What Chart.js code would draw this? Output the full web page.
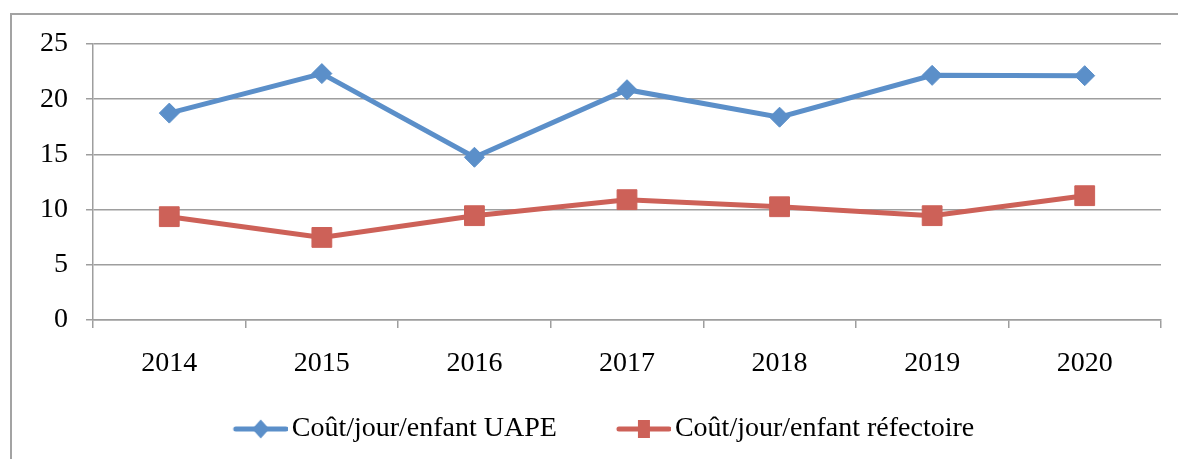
<!DOCTYPE html>
<html>
<head>
<meta charset="utf-8">
<script src="https://cdn.jsdelivr.net/npm/chart.js@4.4.1/dist/chart.umd.min.js"></script>
<style>
  html, body { margin: 0; padding: 0; background: #fff; }
  #wrap { width: 1178px; height: 459px; }
</style>
</head>
<body>
<div id="wrap"><canvas id="myChartline" width="1178" height="459"></canvas></div>
<script>
const years = ['2014', '2015', '2016', '2017', '2018', '2019', '2020'];
const coutUape = [18.74, 22.32, 14.74, 20.86, 18.37, 22.16, 22.13];
const coutRefectoire = [9.36, 7.48, 9.45, 10.9, 10.26, 9.45, 11.26];
const seriesNames = ['Coût/jour/enfant UAPE', 'Coût/jour/enfant réfectoire'];

const blue = '#5b8fc9';
const red = '#cd6158';
const gridGrey = '#9e9e9e';

// legend marker: line with the point marker on it
// (canvas is wider than the drawing so the marker sits right next to the text)
function legendIcon(color, shape) {
	const c = document.createElement('canvas');
	c.width = 94;
	c.height = 22;
	const g = c.getContext('2d');
	const x0 = 39;
	g.strokeStyle = color;
	g.lineWidth = 5;
	g.lineCap = 'round';
	g.beginPath();
	g.moveTo(x0 + 3, 11);
	g.lineTo(x0 + 53, 11);
	g.stroke();
	g.fillStyle = color;
	g.beginPath();
	if (shape === 'diamond') {
		g.moveTo(x0 + 28, 1.5);
		g.lineTo(x0 + 36.5, 11);
		g.lineTo(x0 + 28, 20.5);
		g.lineTo(x0 + 19.5, 11);
		g.closePath();
	} else {
		g.rect(x0 + 22, 2, 12, 18);
	}
	g.fill();
	return c;
}

const frame = {
	id: 'frame',
	beforeDraw(chart) {
		const ctx = chart.ctx;
		ctx.save();
		ctx.strokeStyle = '#a3a3a3';
		ctx.lineWidth = 2;
		ctx.strokeRect(11, 14, 1200, 500);
		ctx.restore();
	}
};

Chart.defaults.font.family = "'Liberation Serif', 'Times New Roman', serif";
Chart.defaults.font.size = 28;
Chart.defaults.color = '#000';

const myChart = new Chart('myChartline', {
	type: 'line',
	data: {
		labels: years,
		datasets: [{
			label: seriesNames[0],
			data: coutUape,
			borderColor: blue,
			backgroundColor: blue,
			borderWidth: 5,
			tension: 0,
			pointStyle: 'rectRot',
			pointRadius: 10,
			pointBorderWidth: 1,
			pointBackgroundColor: blue,
			pointBorderColor: blue,
		}, {
			label: seriesNames[1],
			data: coutRefectoire,
			borderColor: red,
			backgroundColor: red,
			borderWidth: 5,
			tension: 0,
			pointStyle: 'rect',
			pointRadius: 14,
			pointBorderWidth: 1,
			pointBackgroundColor: red,
			pointBorderColor: red,
		}]
	},
	options: {
		responsive: false,
		animation: false,
		layout: {
			padding: { top: 44, right: 17, left: 17, bottom: 6 }
		},
		plugins: {
			tooltip: { enabled: false },
			legend: {
				position: 'bottom',
				labels: {
					usePointStyle: true,
					pointStyleWidth: 74,
					padding: 30,
					font: { size: 28 },
					generateLabels(chart) {
						return chart.data.datasets.map((ds, i) => ({
							text: ds.label,
							datasetIndex: i,
							pointStyle: legendIcon(ds.borderColor, i === 0 ? 'diamond' : 'square'),
							fillStyle: ds.borderColor,
							strokeStyle: ds.borderColor,
							lineWidth: 0,
							hidden: false,
						}));
					}
				}
			}
		},
		scales: {
			x: {
				offset: true,
				afterFit(scale) { scale.height = 65; },
				grid: {
					offset: true,
					drawOnChartArea: false,
					drawTicks: true,
					tickLength: 8,
					color: gridGrey,
					lineWidth: 1.5,
				},
				border: { color: gridGrey, width: 1.5 },
				ticks: { padding: 19, maxRotation: 0 }
			},
			y: {
				min: 0,
				max: 25,
				afterFit(scale) { scale.width = 76; },
				grid: {
					color: gridGrey,
					lineWidth: 1.5,
					tickLength: 7,
				},
				border: { color: gridGrey, width: 1.5 },
				ticks: { stepSize: 5, padding: 18 }
			}
		}
	},
	plugins: [frame]
});
</script>
</body>
</html>
